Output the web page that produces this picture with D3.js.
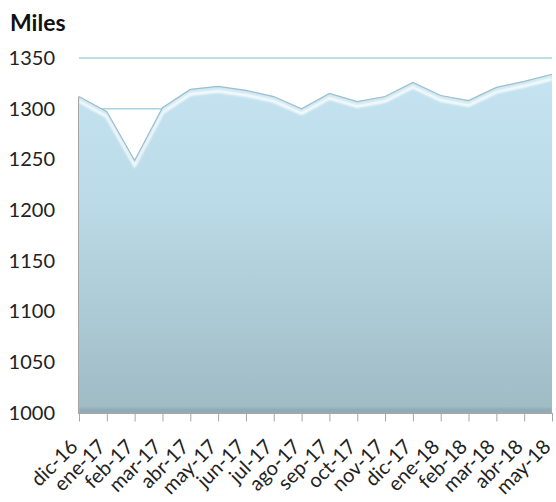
<!DOCTYPE html>
<html><head><meta charset="utf-8">
<script src="https://cdn.jsdelivr.net/npm/d3@7/dist/d3.min.js"></script>
<style>body{margin:0;background:#fff}svg{display:block}</style>
</head><body>
<svg id="chart" width="556" height="502"></svg>
<script>
const categories = ["dic-16","ene-17","feb-17","mar-17","abr-17","may-17","jun-17","jul-17","ago-17","sep-17","oct-17","nov-17","dic-17","ene-18","feb-18","mar-18","abr-18","may-18"];
const values = [1312,1297,1249,1301,1319,1322,1318,1312,1300,1315,1307,1312,1326,1313,1308,1321,1327,1334];
const yTicks = [1000,1050,1100,1150,1200,1250,1300,1350];
const yTitle = "Miles";

const svg = d3.select("#chart");
const font = "Lato, 'Open Sans', sans-serif";
const x = d3.scalePoint().domain(categories).range([79, 552]);
const y = d3.scaleLinear().domain([1000, 1350]).range([413, 58]);
const data = categories.map((c, i) => ({c, v: values[i]}));

const defs = svg.append("defs");
const grad = defs.append("linearGradient").attr("id", "g")
  .attr("gradientUnits", "userSpaceOnUse").attr("x1", 0).attr("x2", 0).attr("y1", y(1350)).attr("y2", y(1000));
grad.append("stop").attr("offset", "0").attr("stop-color", "#c6e4f2");
grad.append("stop").attr("offset", "0.4").attr("stop-color", "#bbdbe8");
grad.append("stop").attr("offset", "1").attr("stop-color", "#9fbbc4");
defs.append("filter").attr("id", "blur").append("feGaussianBlur").attr("stdDeviation", 1.3);
defs.append("filter").attr("id", "blur1").append("feGaussianBlur").attr("stdDeviation", 0.9);

// gridlines
svg.append("g").selectAll("line").data(yTicks.filter(d => d > 1000)).join("line")
  .attr("x1", 79).attr("x2", 552).attr("y1", d => y(d)).attr("y2", d => y(d))
  .attr("stroke", "#aad4e0").attr("stroke-width", 1.5);

const area = d3.area().x(d => x(d.c)).y0(y(1000)).y1(d => y(d.v));
const line = d3.line().x(d => x(d.c)).y(d => y(d.v));

defs.append("clipPath").attr("id", "clip").append("path").attr("d", area(data));

svg.append("path").attr("d", area(data)).attr("fill", "url(#g)");

const bev = svg.append("g").attr("clip-path", "url(#clip)");
// bottom dark band
bev.append("rect").attr("x", 79).attr("width", 473).attr("y", y(1000) - 5).attr("height", 6)
  .attr("fill", "#8fa8b0").attr("opacity", 0.8).attr("filter", "url(#blur)");
// right dark edge
bev.append("line").attr("x1", 552).attr("x2", 552).attr("y1", 0).attr("y2", y(1000))
  .attr("stroke", "#86a2ac").attr("stroke-width", 5).attr("filter", "url(#blur)");
// left edge
bev.append("line").attr("x1", 79).attr("x2", 79).attr("y1", 0).attr("y2", y(1000))
  .attr("stroke", "#9ab8c3").attr("stroke-width", 3).attr("filter", "url(#blur)");
// top highlight
bev.append("path").attr("d", line(data)).attr("transform", "translate(0,4.5)")
  .attr("fill", "none").attr("stroke", "#ffffff").attr("stroke-width", 3.5).attr("opacity", 0.9).attr("filter", "url(#blur1)");
bev.append("path").attr("d", line(data)).attr("transform", "translate(0,1.5)")
  .attr("fill", "none").attr("stroke", "#d4ebf5").attr("stroke-width", 2).attr("filter", "url(#blur1)");
// outline
svg.append("path").attr("d", line(data)).attr("fill", "none").attr("stroke", "#9cbfcc").attr("stroke-width", 1.2);

// y axis line (along area's left edge)
svg.append("line").attr("x1", 78.5).attr("x2", 78.5).attr("y1", y(values[0])).attr("y2", y(1000) + 1)
  .attr("stroke", "#a6a6a6").attr("stroke-width", 1);

// x axis
const xAxis = d3.axisBottom(x).tickSize(8).tickFormat("");
const gx = svg.append("g").attr("transform", `translate(0,${y(1000) + 0.5})`).call(xAxis);
gx.select(".domain").attr("stroke", "#a6a6a6").attr("d", "M78.5,0H553");
gx.selectAll(".tick line").attr("stroke", "#a6a6a6");

svg.append("g").selectAll("text").data(categories).join("text")
  .attr("transform", d => `translate(${x(d) - 5},${y(1000) + 30}) rotate(-45)`)
  .attr("text-anchor", "end").attr("dy", "0.35em")
  .attr("font-family", font).attr("font-size", 20).attr("fill", "#222")
  .text(d => d);

// y labels
const yAxis = d3.axisLeft(y).tickValues(yTicks).tickSize(0).tickPadding(0).tickFormat(d3.format("d"));
const gy = svg.append("g").attr("transform", "translate(55,0)").call(yAxis);
gy.select(".domain").remove();
gy.selectAll("text").attr("font-family", font).attr("font-size", 20).attr("fill", "#222");

svg.append("text").attr("x", 10).attr("y", 31).attr("font-family", font).attr("font-weight", "bold")
  .attr("font-size", 23).attr("fill", "#111").text(yTitle);
</script>
</body></html>
